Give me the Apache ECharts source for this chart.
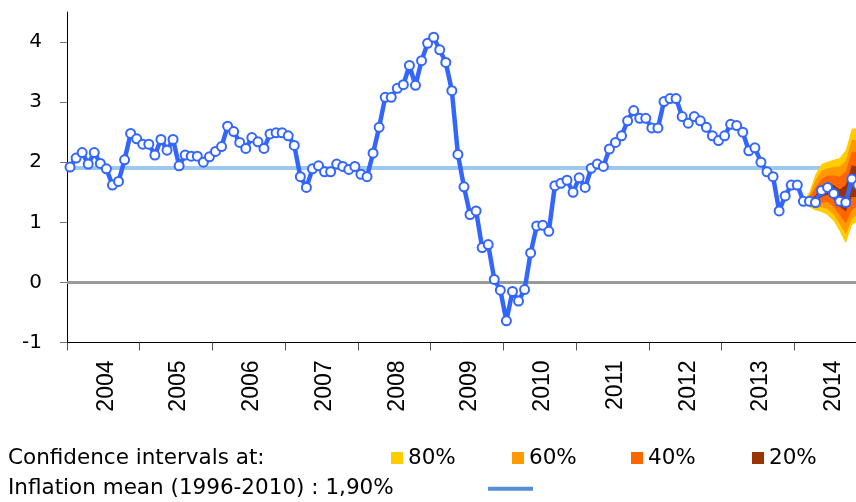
<!DOCTYPE html>
<html>
<head>
<meta charset="utf-8">
<script src="https://cdn.jsdelivr.net/npm/echarts@6/dist/echarts.min.js"></script>
<style>html,body{margin:0;padding:0;background:#fff}#c{width:856px;height:502px}</style>
</head>
<body>
<div id="c"></div>
<script>
// ---- data ----
const years = ['2004','2005','2006','2007','2008','2009','2010','2011','2012','2013','2014'];
const monthsPerYear = 12;
const inflation = [
  1.92, 2.07, 2.16, 1.97, 2.16, 1.98, 1.89, 1.62, 1.68, 2.04, 2.48, 2.39,
  2.30, 2.30, 2.12, 2.38, 2.20, 2.38, 1.94, 2.12, 2.10, 2.10, 2.00, 2.09,
  2.18, 2.26, 2.60, 2.51, 2.33, 2.23, 2.41, 2.34, 2.23, 2.47, 2.49, 2.49,
  2.44, 2.28, 1.76, 1.58, 1.89, 1.94, 1.84, 1.84, 1.97, 1.93, 1.88, 1.93,
  1.80, 1.76, 2.15, 2.58, 3.08, 3.08, 3.23, 3.29, 3.61, 3.28, 3.69, 3.98,
  4.08, 3.87, 3.66, 3.19, 2.13, 1.59, 1.13, 1.19, 0.58, 0.63, 0.05, -0.13,
  -0.64, -0.15, -0.31, -0.12, 0.49, 0.94, 0.95, 0.85, 1.61, 1.65, 1.70, 1.50,
  1.74, 1.58, 1.90, 1.97, 1.93, 2.22, 2.33, 2.44, 2.69, 2.86, 2.73, 2.73,
  2.57, 2.57, 3.01, 3.06, 3.06, 2.76, 2.65, 2.76, 2.69, 2.58, 2.44, 2.36,
  2.44, 2.63, 2.61, 2.50, 2.19, 2.24, 2.00, 1.84, 1.76, 1.19, 1.44, 1.62,
  1.62, 1.35, 1.35, 1.33, 1.53, 1.58, 1.48, 1.35, 1.33, 1.72, 1.62
];
// fan chart starts at month index 121
const fanStart = 121;
const fan80Upper = [1.35, 1.50, 1.80, 1.97, 2.01, 2.04, 2.07, 2.20, 2.56, 2.56];
const fan80Lower = [1.35, 1.25, 1.20, 1.17, 1.12, 1.02, 0.85, 0.65, 0.95, 1.02];
const fan60Upper = [1.35, 1.46, 1.70, 1.86, 1.90, 1.92, 1.93, 2.02, 2.38, 2.36];
const fan60Lower = [1.35, 1.29, 1.24, 1.25, 1.22, 1.13, 0.97, 0.80, 1.05, 1.15];
const fan40Upper = [1.35, 1.42, 1.58, 1.72, 1.78, 1.78, 1.76, 1.85, 2.18, 2.16];
const fan40Lower = [1.35, 1.31, 1.28, 1.33, 1.34, 1.26, 1.12, 0.98, 1.20, 1.28];
const fan20Upper = [1.35, 1.38, 1.45, 1.60, 1.66, 1.62, 1.55, 1.62, 1.95, 1.92];
const fan20Lower = [1.35, 1.33, 1.31, 1.42, 1.46, 1.38, 1.26, 1.18, 1.42, 1.42];
const meanInflation = 1.9;
const yTicks = [-1, 0, 1, 2, 3, 4];
const legendLabels = ['80%', '60%', '40%', '20%'];
const legendTitle = 'Confidence intervals at:';
const meanLabel = 'Inflation mean (1996-2010) : 1,90%';

// ---- build ----
const categories = [];
years.forEach(y => { for (let m = 1; m <= monthsPerYear; m++) categories.push(y + '-' + (m < 10 ? '0' + m : m)); });

function pad(arr) {
  const out = [];
  for (let i = 0; i < fanStart; i++) out.push('-');
  return out.concat(arr);
}
function diff(up, lo) { return up.map((v, i) => +(v - lo[i]).toFixed(3)); }

const bandColors = ['#FFCC00', '#FF9900', '#FF6600', '#993300'];
const bands = [
  [fan80Lower, fan80Upper],
  [fan60Lower, fan60Upper],
  [fan40Lower, fan40Upper],
  [fan20Lower, fan20Upper]
];

const series = [];
series.push({
  type: 'line', data: [], z: 1, silent: true, symbol: 'none',
  markLine: {
    silent: true, symbol: 'none', z: 1, label: { show: false },
    data: [
      { yAxis: 0, lineStyle: { color: '#999999', width: 3, type: 'solid' } },
      { yAxis: meanInflation, lineStyle: { color: '#9DC8F0', width: 4, type: 'solid' } }
    ]
  }
});
bands.forEach((b, k) => {
  series.push({
    type: 'line', stack: 'band' + k, data: pad(b[0]), symbol: 'none', z: 2, silent: true,
    lineStyle: { opacity: 0, width: 0 }
  });
  series.push({
    type: 'line', stack: 'band' + k, data: pad(diff(b[1], b[0])), symbol: 'none', z: 2, silent: true,
    lineStyle: { opacity: 0, width: 0 },
    areaStyle: { color: bandColors[k], opacity: 1 }
  });
});
series.push({
  type: 'line', data: inflation, z: 3,
  symbol: 'circle', symbolSize: 9, showAllSymbol: true,
  lineStyle: { color: '#3366FF', width: 4.5 },
  itemStyle: { color: '#ffffff', borderColor: '#3366FF', borderWidth: 2 }
});

const legendFont = '21.5px "DejaVu Sans"';
const graphic = [
  { type: 'text', left: 8, top: 447, style: { text: legendTitle, font: legendFont, fill: '#000' } },
  { type: 'text', left: 8, top: 477, style: { text: meanLabel, font: legendFont, fill: '#000' } },
  { type: 'line', shape: { x1: 488, y1: 488.7, x2: 533, y2: 488.7 }, style: { stroke: '#558ED5', lineWidth: 4 } }
];
const sqX = [391, 512, 631, 752];
legendLabels.forEach((t, k) => {
  graphic.push({ type: 'rect', shape: { x: sqX[k], y: 452, width: 12, height: 12 }, style: { fill: bandColors[k] } });
  graphic.push({ type: 'text', left: sqX[k] + 17, top: 447, style: { text: t, font: legendFont, fill: '#000' } });
});

const chart = echarts.init(document.getElementById('c'), null, { renderer: 'canvas' });
chart.setOption({
  animation: false,
  backgroundColor: '#ffffff',
  grid: { left: 67, top: 12, width: 800, height: 330.5, containLabel: false, outerBoundsMode: 'none' },
  xAxis: {
    type: 'category', data: categories, boundaryGap: true,
    axisLine: { onZero: false, lineStyle: { color: '#000', width: 1 } },
    axisTick: { show: true, alignWithLabel: false, length: 8, interval: (i) => i % 12 === 0, lineStyle: { color: '#555', width: 1 } },
    axisLabel: {
      interval: (i) => i % 12 === 6, rotate: 90, margin: 18, padding: [5, 0, 0, 0],
      formatter: (v) => v.slice(0, 4),
      fontSize: 23, fontFamily: 'Liberation Sans', color: '#000'
    },
    splitLine: { show: false }
  },
  yAxis: {
    type: 'value', min: -1, max: 4.5, interval: 1,
    axisLine: { show: true, lineStyle: { color: '#000', width: 1 } },
    axisTick: { show: true, length: 7, customValues: yTicks, lineStyle: { color: '#777' } },
    axisLabel: { customValues: yTicks, margin: 25, fontSize: 20, fontFamily: 'DejaVu Sans', color: '#000' },
    splitLine: { show: false }
  },
  series: series,
  graphic: graphic
});
</script>
</body>
</html>
